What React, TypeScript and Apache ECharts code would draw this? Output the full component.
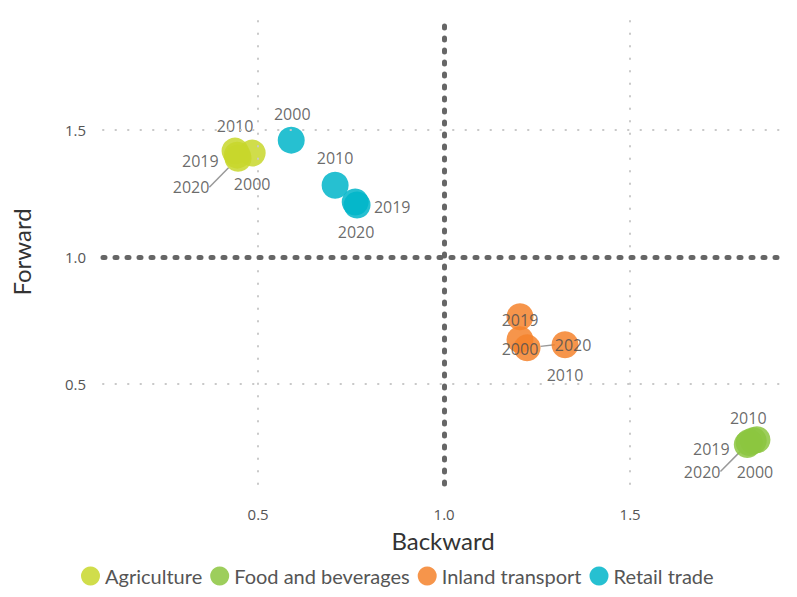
import React, { useEffect, useRef } from "react";
import * as echarts from "echarts";

const years = ["2000", "2010", "2019", "2020"];
const seriesNames = ["Agriculture", "Food and beverages", "Inland transport", "Retail trade"];
const agriX = [0.484, 0.438, 0.444, 0.446];
const agriY = [1.408, 1.416, 1.4, 1.388];
const foodX = [1.841, 1.831, 1.815, 1.82];
const foodY = [0.282, 0.278, 0.263, 0.271];
const inlandX = [1.204, 1.325, 1.204, 1.223];
const inlandY = [0.675, 0.655, 0.765, 0.643];
const retailX = [0.589, 0.707, 0.761, 0.766];
const retailY = [1.459, 1.282, 1.216, 1.204];
const xTicks = [0.5, 1.0, 1.5];
const yTicks = [0.5, 1.0, 1.5];

// layout config (label offsets in px, per series, per year)
const labelOffsets = [
  [[0, 31], [0, -25], [-37, 6], [-47, 29]],
  [[-2, 32], [-5, -23], [-36, 4], [-47, 29]],
  [[0, 9], [0, 30], [0, 3], [46, -3]],
  [[1, -26], [0, -27], [37, 5], [-1, 27]],
];
const labelLineFlags = [
  [false, false, false, true],
  [false, false, false, true],
  [false, false, false, true],
  [false, false, false, false],
];
const colors = ["#c8d72b", "#8cc63f", "#f5832b", "#00b5c9"];

export default function App() {
  const ref = useRef<HTMLDivElement>(null);
  useEffect(() => {
    if (!ref.current) return;
    const chart = echarts.init(ref.current, null, { renderer: "svg" });
    const xs = [agriX, foodX, inlandX, retailX];
    const ys = [agriY, foodY, inlandY, retailY];
    const font = "Lato, 'Noto Sans', sans-serif";
    const numFont = "'Open Sans', 'Noto Sans', sans-serif";

    const series: any[] = seriesNames.map((name, si) => ({
      name,
      type: "scatter",
      symbolSize: 27,
      itemStyle: { color: colors[si], opacity: 0.85 },
      label: {
        show: true,
        position: "inside",
        formatter: (p: any) => years[p.dataIndex],
        color: "#505050",
        fontSize: 16,
        fontWeight: "normal",
        fontFamily: numFont,
      },
      labelLine: { show: false, lineStyle: { color: "#999", width: 1.5 } },
      labelLayout: (p: any) => {
        const o = labelOffsets[si][p.dataIndex];
        return { dx: o[0], dy: o[1] };
      },
      data: years.map((y, i) => ({
        value: [xs[si][i], ys[si][i]],
        labelLine: { show: labelLineFlags[si][i], lineStyle: { color: "#999", width: 1.5 } },
      })),
      z: 3,
    }));

    series.push({
      name: "grid",
      type: "scatter",
      data: [],
      silent: true,
      markLine: {
        silent: true,
        symbol: "none",
        label: { show: false },
        animation: false,
        data: [
          ...xTicks.filter((v) => v !== 1).map((v) => ({
            xAxis: v,
            lineStyle: { color: "#c8c8c8", width: 2, type: [0.5, 12], cap: "round" },
          })),
          ...yTicks.filter((v) => v !== 1).map((v) => ({
            yAxis: v,
            lineStyle: { color: "#c8c8c8", width: 2, type: [0.5, 12], cap: "round" },
          })),
          { xAxis: 1, lineStyle: { color: "#666", width: 5, type: [2, 10], cap: "round" } },
          { yAxis: 1, lineStyle: { color: "#666", width: 5, type: [2, 10], cap: "round" } },
        ],
      },
      z: 1,
    });

    chart.setOption({
      animation: false,
      backgroundColor: "#fff",
      textStyle: { fontFamily: font },
      grid: { left: 103, right: 14, top: 20, bottom: 113 },
      xAxis: {
        type: "value",
        min: 0.083,
        max: 1.911,
        name: "Backward",
        nameLocation: "middle",
        nameGap: 44,
        nameTextStyle: { fontSize: 24, color: "#333", fontFamily: font },
        axisLine: { show: false },
        axisTick: { show: false },
        splitLine: { show: false },
        axisLabel: {
          customValues: xTicks,
          formatter: (v: number) => v.toFixed(1),
          fontSize: 15,
          color: "#555",
          margin: 22,
          fontFamily: numFont,
        },
      },
      yAxis: {
        type: "value",
        min: 0.108,
        max: 1.931,
        name: "Forward",
        nameLocation: "middle",
        nameGap: 70,
        nameTextStyle: { fontSize: 24, color: "#333", fontFamily: font },
        axisLine: { show: false },
        axisTick: { show: false },
        splitLine: { show: false },
        axisLabel: {
          customValues: yTicks,
          formatter: (v: number) => v.toFixed(1),
          fontSize: 15,
          color: "#555",
          margin: 17,
          fontFamily: numFont,
        },
      },
      legend: {
        data: seriesNames,
        top: 561,
        left: 76,
        padding: 5,
        icon: "circle",
        itemWidth: 19,
        itemHeight: 19,
        itemGap: 8,
        textStyle: { fontSize: 20, color: "#555", fontFamily: font },
      },
      series,
    });
    return () => chart.dispose();
  }, []);
  return <div ref={ref} style={{ width: 797, height: 597, margin: -8 }} />;
}
